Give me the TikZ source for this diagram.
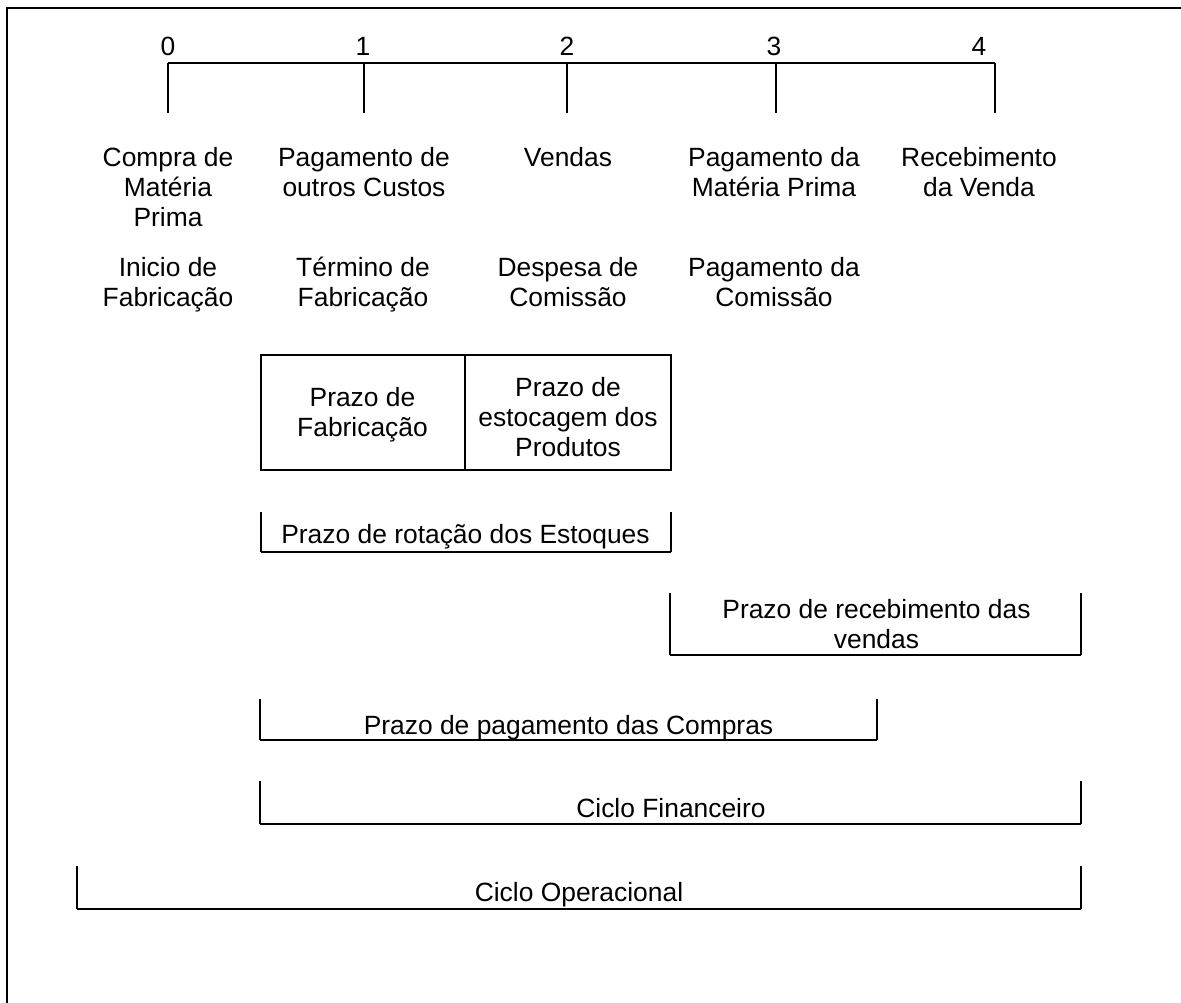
\documentclass[tikz,border=0pt]{standalone}
\usepackage{fontspec}
\setmainfont{Liberation Sans}
\begin{document}
\begin{tikzpicture}[x=1pt,y=-1pt,
  lbl/.style={align=center,inner sep=0pt,anchor=north,
    font=\fontsize{26.4}{30}\selectfont,execute at begin node=\strut},
  frameline/.style={line width=1.4pt},
  axisline/.style={line width=1.3pt},
  boxline/.style={line width=2.4pt},
  legline/.style={line width=1.3pt},
  baseline/.style={line width=2.2pt}]
\useasboundingbox (0,0) rectangle (1181,1003);

% outer frame (top and left edges)
\coordinate (ftl) at (7,8);
\coordinate (ftr) at (1181,8);
\coordinate (fbl) at (7,1003);
\draw[frameline] (ftr) -- (ftl) -- (fbl);

% time axis with ticks 0..4
\foreach \i/\x in {0/168,1/364,2/567,3/776,4/995}{
  \coordinate (t\i) at (\x,63);
  \coordinate (b\i) at (\x,113);
}
\draw[axisline] (t0) -- (t4);
\foreach \i in {0,...,4}{ \draw[axisline] (t\i) -- (b\i); }
\foreach \i/\x in {0/168,1/363,2/567,3/774,4/979}{
  \node[lbl] (n\i) at (\x,34) {\i};
}

% events at each date
\node[lbl] (e0a) at (168,147) {Compra de\\Matéria\\Prima};
\node[lbl] (e1a) at (364,147) {Pagamento de\\outros Custos};
\node[lbl] (e2a) at (568,145) {Vendas};
\node[lbl] (e3a) at (774,147) {Pagamento da\\Matéria Prima};
\node[lbl] (e4a) at (979,147) {Recebimento\\da Venda};

\node[lbl] (e0b) at (168,257) {Inicio de\\Fabricação};
\node[lbl] (e1b) at (363,257) {Término de\\Fabricação};
\node[lbl] (e2b) at (568,257) {Despesa de\\Comissão};
\node[lbl] (e3b) at (774,257) {Pagamento da\\Comissão};

% production and storage periods
\coordinate (bxa) at (261,355);
\coordinate (bxb) at (671,470);
\coordinate (bxm1) at (465,355);
\coordinate (bxm2) at (465,470);
\draw[boxline] (bxa) rectangle (bxb);
\draw[boxline] (bxm1) -- (bxm2);
\node[lbl] (pfab) at (362.5,387) {Prazo de\\Fabricação};
\node[lbl] (pest) at (568,377) {Prazo de\\estocagem dos\\Produtos};

% period brackets
\foreach \n/\l/\r/\t/\b in {rot/261/671/512/552, rec/670/1081/593/655,
  pag/260/877/699/740, fin/260/1081/781/824, ope/77/1081/866/909}{
  \coordinate (\n lt) at (\l,\t);
  \coordinate (\n lb) at (\l,\b);
  \coordinate (\n rt) at (\r,\t);
  \coordinate (\n rb) at (\r,\b);
  \draw[legline] (\n lt) -- (\n lb);
  \draw[legline] (\n rt) -- (\n rb);
  \draw[baseline] (\n lb) -- (\n rb);
}
\node[lbl] (lrot) at (465.5,522) {Prazo de rotação dos Estoques};
\node[lbl] (lrec) at (876.5,599) {Prazo de recebimento das\\vendas};
\node[lbl] (lpag) at (568.5,713) {Prazo de pagamento das Compras};
\node[lbl] (lfin) at (671,796) {Ciclo Financeiro};
\node[lbl] (lope) at (579,880) {Ciclo Operacional};
\end{tikzpicture}
\end{document}
